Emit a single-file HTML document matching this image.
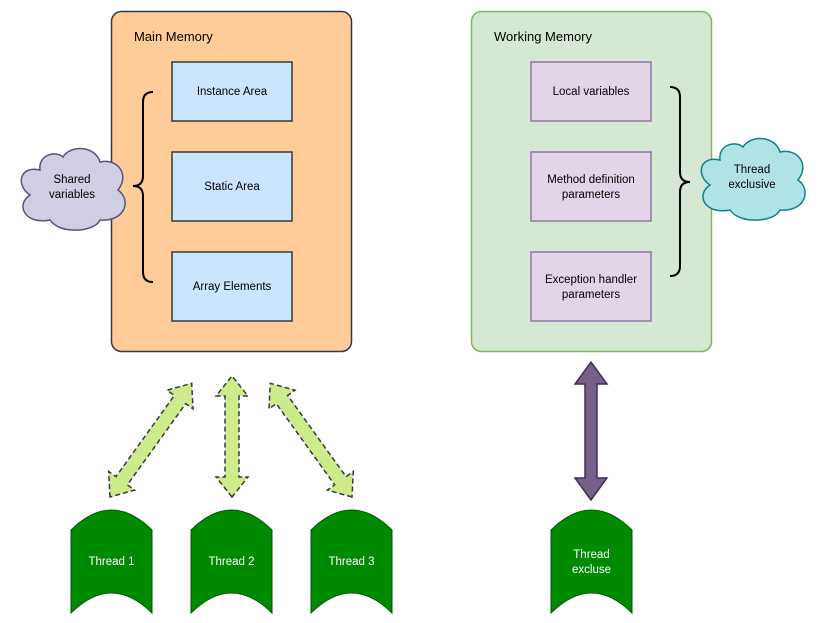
<!DOCTYPE html>
<html><head><style>body{margin:0;background:#fff}svg{display:block;font-family:"Liberation Sans",Arial,sans-serif}</style></head><body>
<svg width="822" height="623" viewBox="0 0 822 623" xmlns="http://www.w3.org/2000/svg">
<rect x="111.5" y="11.5" width="240" height="340" rx="10" fill="#ffcc99" stroke="#36393d" stroke-width="1.5"/>
<text x="134" y="41" font-size="13" fill="#000">Main Memory</text>
<g fill="#cce5ff" stroke="#36393d" stroke-width="1.5">
<rect x="172" y="62" width="120" height="59"/><rect x="172" y="152" width="120" height="69"/><rect x="172" y="252" width="120" height="69"/></g>
<g font-size="11.5" text-anchor="middle" fill="#000">
<text x="232" y="95">Instance Area</text><text x="232" y="190">Static Area</text><text x="232" y="290">Array Elements</text></g>
<rect x="471.5" y="11.5" width="240" height="340" rx="10" fill="#d5e8d4" stroke="#82b366" stroke-width="1.5"/>
<text x="494" y="41" font-size="13" fill="#000">Working Memory</text>
<g fill="#e1d5e7" stroke="#9673a6" stroke-width="1.5">
<rect x="531" y="62" width="120" height="59"/><rect x="531" y="152" width="120" height="69"/><rect x="531" y="252" width="120" height="69"/></g>
<g font-size="11.5" text-anchor="middle" fill="#000">
<text x="591" y="95">Local variables</text><text x="591" y="183">Method definition</text><text x="591" y="198">parameters</text>
<text x="591" y="283">Exception handler</text><text x="591" y="298">parameters</text></g>
<path d="M153,92 Q143,92 143,102 L143,176 Q143,186 133,186 Q143,186 143,196 L143,272 Q143,282 153,282" fill="none" stroke="#000" stroke-width="2"/>
<path d="M670,87 Q680,87 680,97 L680,172 Q680,182 690,182 Q680,182 680,192 L680,266 Q680,276 670,276" fill="none" stroke="#000" stroke-width="2"/>
<path d="M40,170 C20,165 15,185 30,195 C15,205 25,225 50,220 C60,235 95,232 100,220 C125,222 132,200 118,190 C130,175 118,158 100,162 C95,145 70,145 63,157 C55,150 38,155 40,170 Z" fill="#d0cee2" stroke="#56517e" stroke-width="1.5"/>
<text x="72" y="183" font-size="11.5" text-anchor="middle">Shared</text><text x="72" y="198" font-size="11.5" text-anchor="middle">variables</text>
<path d="M720,160 C700,155 695,175 710,185 C695,195 705,215 730,210 C740,225 775,222 780,210 C805,212 812,190 798,180 C810,165 798,148 780,152 C775,135 750,135 743,147 C735,140 718,145 720,160 Z" fill="#b0e3e6" stroke="#0e8088" stroke-width="1.5"/>
<text x="752" y="173" font-size="11.5" text-anchor="middle">Thread</text><text x="752" y="188" font-size="11.5" text-anchor="middle">exclusive</text>
<g fill="#cdeb8b" stroke="#36393d" stroke-width="1.5" stroke-dasharray="5,3">
<path transform="translate(110,497) rotate(-54.3)" d="M0,0 L20,-16 L20,-7 L120,-7 L120,-16 L140,0 L120,16 L120,7 L20,7 L20,16 Z"/>
<path transform="translate(232,497) rotate(-90)" d="M0,0 L20,-16 L20,-7 L101,-7 L101,-16 L121,0 L101,16 L101,7 L20,7 L20,16 Z"/>
<path transform="translate(352,497) rotate(-125.7)" d="M0,0 L20,-16 L20,-7 L120,-7 L120,-16 L140,0 L120,16 L120,7 L20,7 L20,16 Z"/>
</g>
<path transform="translate(591,500) rotate(-90)" d="M0,0 L22,-16 L22,-6 L116,-6 L116,-16 L138,0 L116,16 L116,6 L22,6 L22,16 Z" fill="#76608a" stroke="#432d57" stroke-width="1.5"/>
<g fill="#008a00" stroke="#005700" stroke-width="1">
<path d="M71,530 Q111.5,490 152,530 L152,613 Q111.5,573 71,613 Z"/>
<path d="M191,530 Q231.5,490 272,530 L272,613 Q231.5,573 191,613 Z"/>
<path d="M311,530 Q351.5,490 392,530 L392,613 Q351.5,573 311,613 Z"/>
<path d="M551,530 Q591.5,490 632,530 L632,613 Q591.5,573 551,613 Z"/>
</g>
<g font-size="11.5" text-anchor="middle" fill="#fff">
<text x="111.5" y="565">Thread 1</text><text x="231.5" y="565">Thread 2</text><text x="351.5" y="565">Thread 3</text>
<text x="591.5" y="558">Thread</text><text x="591.5" y="573">excluse</text></g>
</svg>
</body></html>
